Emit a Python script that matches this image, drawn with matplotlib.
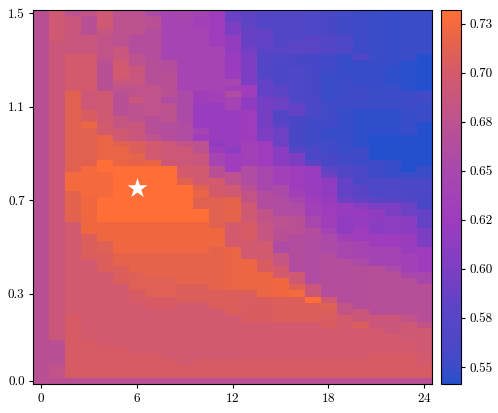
import numpy as np
import matplotlib
matplotlib.use('Agg')
import matplotlib.pyplot as plt
from matplotlib.colors import LinearSegmentedColormap

plt.rcParams['font.family'] = 'cmr10'
plt.rcParams['axes.formatter.use_mathtext'] = True

# score in thousandths for each column, as (value, row where it stops), rows counted from the top
col_00 = [(672, 60)]
col_01 = [(695, 5), (690, 53), (672, 57), (680, 59), (672, 60)]
col_02 = [(675, 1), (688, 7), (700, 13), (712, 26), (725, 29), (713, 34), (697, 49), (703, 59), (672, 60)]
col_03 = [(680, 1), (672, 4), (688, 7), (700, 13), (692, 16), (705, 18), (720, 19), (712, 25), (725, 30), (722, 36), (708, 40), (697, 52), (700, 53), (703, 59), (672, 60)]
col_04 = [(695, 3), (685, 4), (680, 8), (672, 13), (695, 18), (700, 20), (718, 24), (732, 26), (725, 30), (732, 34), (722, 37), (710, 39), (708, 42), (697, 53), (700, 54), (703, 59), (672, 60)]
col_05 = [(675, 6), (688, 8), (697, 11), (688, 12), (678, 13), (672, 17), (685, 19), (695, 21), (712, 22), (718, 25), (732, 34), (722, 39), (715, 41), (708, 44), (697, 54), (703, 59), (672, 60)]
col_06 = [(675, 4), (665, 7), (675, 9), (688, 12), (678, 14), (688, 15), (675, 18), (688, 21), (708, 23), (715, 25), (732, 34), (722, 39), (715, 42), (710, 45), (703, 47), (697, 55), (703, 59), (672, 60)]
col_07 = [(655, 1), (672, 3), (662, 4), (665, 8), (668, 12), (678, 17), (668, 20), (678, 21), (698, 24), (718, 25), (732, 34), (722, 39), (715, 43), (710, 46), (703, 48), (697, 55), (703, 59), (672, 60)]
col_08 = [(645, 8), (665, 10), (672, 14), (660, 15), (675, 18), (665, 21), (692, 25), (732, 34), (722, 39), (715, 43), (710, 46), (703, 48), (697, 56), (703, 59), (672, 60)]
col_09 = [(650, 2), (645, 13), (655, 18), (660, 21), (680, 22), (692, 25), (700, 27), (712, 28), (732, 34), (722, 39), (715, 44), (708, 47), (697, 57), (703, 59), (672, 60)]
col_10 = [(640, 1), (635, 3), (645, 13), (630, 15), (622, 19), (640, 20), (628, 21), (675, 23), (688, 25), (697, 28), (712, 29), (718, 30), (712, 32), (732, 34), (722, 39), (715, 44), (708, 47), (697, 56), (703, 59), (672, 60)]
col_11 = [(625, 5), (630, 6), (645, 13), (635, 15), (622, 21), (615, 22), (625, 23), (645, 25), (672, 27), (700, 30), (712, 35), (722, 38), (715, 45), (708, 48), (697, 56), (703, 59), (672, 60)]
col_12 = [(588, 2), (600, 4), (617, 7), (622, 11), (650, 12), (635, 13), (660, 14), (640, 16), (622, 22), (612, 23), (628, 26), (675, 28), (695, 30), (715, 34), (700, 38), (718, 45), (708, 49), (697, 56), (703, 59), (672, 60)]
col_13 = [(582, 3), (587, 6), (595, 7), (600, 12), (628, 14), (615, 16), (625, 21), (635, 25), (660, 28), (672, 29), (682, 31), (695, 34), (703, 37), (697, 40), (720, 45), (708, 46), (705, 50), (698, 56), (703, 59), (672, 60)]
col_14 = [(572, 3), (585, 6), (580, 7), (570, 11), (585, 14), (595, 19), (600, 21), (625, 25), (650, 29), (662, 32), (680, 34), (685, 37), (697, 40), (705, 42), (720, 46), (705, 50), (698, 56), (703, 59), (672, 60)]
col_15 = [(570, 6), (580, 7), (565, 9), (562, 12), (580, 14), (590, 16), (570, 18), (580, 19), (590, 22), (610, 25), (635, 28), (655, 30), (660, 33), (675, 35), (672, 37), (658, 39), (685, 41), (700, 43), (722, 46), (708, 50), (698, 56), (703, 59), (672, 60)]
col_16 = [(570, 5), (580, 7), (560, 9), (565, 15), (585, 17), (560, 22), (575, 23), (600, 25), (625, 29), (635, 30), (650, 31), (658, 33), (672, 36), (662, 42), (695, 44), (710, 45), (725, 46), (708, 50), (698, 56), (703, 59), (672, 60)]
col_17 = [(565, 4), (578, 7), (558, 11), (560, 15), (563, 17), (555, 22), (562, 24), (578, 25), (622, 30), (628, 31), (635, 33), (650, 35), (665, 36), (660, 44), (690, 46), (732, 47), (708, 50), (698, 56), (703, 59), (672, 60)]
col_18 = [(560, 4), (570, 7), (555, 10), (550, 15), (555, 19), (548, 21), (555, 23), (560, 25), (580, 26), (590, 27), (615, 30), (620, 31), (625, 33), (630, 35), (640, 36), (655, 39), (665, 46), (695, 47), (710, 48), (708, 49), (705, 51), (698, 56), (703, 59), (672, 60)]
col_19 = [(555, 4), (565, 7), (548, 11), (552, 16), (548, 21), (550, 23), (555, 25), (570, 27), (585, 30), (592, 31), (620, 33), (615, 36), (635, 37), (650, 40), (665, 47), (682, 49), (700, 51), (698, 56), (703, 59), (672, 60)]
col_20 = [(552, 7), (570, 8), (548, 12), (552, 16), (545, 22), (552, 25), (562, 28), (578, 30), (585, 31), (610, 32), (620, 35), (625, 37), (645, 40), (655, 41), (667, 48), (690, 50), (708, 51), (698, 56), (703, 59), (672, 60)]
col_21 = [(550, 8), (548, 12), (550, 16), (545, 20), (542, 24), (552, 27), (565, 30), (580, 31), (600, 32), (615, 34), (610, 36), (625, 38), (640, 41), (668, 49), (690, 51), (698, 55), (703, 59), (672, 60)]
col_22 = [(548, 9), (545, 12), (550, 16), (545, 20), (542, 24), (548, 27), (565, 30), (575, 31), (600, 33), (612, 36), (625, 38), (640, 41), (655, 42), (668, 49), (690, 52), (698, 55), (703, 59), (672, 60)]
col_23 = [(550, 8), (543, 13), (552, 16), (548, 20), (542, 26), (550, 27), (562, 30), (570, 31), (590, 33), (610, 36), (622, 39), (635, 42), (650, 43), (668, 49), (680, 50), (695, 53), (698, 55), (703, 59), (672, 60)]
col_24 = [(550, 7), (542, 13), (555, 15), (550, 18), (542, 25), (550, 27), (562, 30), (560, 32), (585, 35), (600, 38), (625, 42), (650, 44), (668, 50), (682, 51), (695, 55), (698, 57), (703, 59), (672, 60)]

columns = [col_00, col_01, col_02, col_03, col_04, col_05, col_06, col_07, col_08, col_09, col_10, col_11,
           col_12, col_13, col_14, col_15, col_16, col_17, col_18, col_19, col_20, col_21, col_22, col_23, col_24]

xticks = [0, 6, 12, 18, 24]
yticks = [0, 15, 30, 45, 59]
ylabels = ['1.5', '1.1', '0.7', '0.3', '0.0']
cticks = [0.55, 0.575, 0.6, 0.625, 0.65, 0.675, 0.7, 0.725]
clabels = ['0.55', '0.58', '0.60', '0.62', '0.65', '0.68', '0.70', '0.73']
best = (6, 28)

vmin, vmax = 0.5413, 0.7321
stops = [0.5413, 0.547, 0.56, 0.58, 0.60, 0.625, 0.65, 0.675, 0.70, 0.715, 0.7321]
stop_colors = ['#2450cd', '#384dca', '#4a48c8', '#5c44c6', '#7d3ec3', '#9e3cbe', '#a848ae', '#bc5290', '#d45a6c', '#e4634b', '#ff6e36']

grid = np.zeros((60, 25))
for j, col in enumerate(columns):
    start = 0
    for value, stop in col:
        grid[start:stop, j] = value / 1000
        start = stop

positions = [(s - vmin) / (vmax - vmin) for s in stops]
cmap = LinearSegmentedColormap.from_list('score', list(zip(positions, stop_colors)))

W, H = 498, 413
fig = plt.figure(figsize=(W / 100, H / 100), dpi=100)
ax = fig.add_axes([33 / W, 1 - 384 / H, 399 / W, 374 / H])
cax = fig.add_axes([441 / W, 1 - 384 / H, 20 / W, 374 / H])

im = ax.imshow(grid, cmap=cmap, vmin=vmin, vmax=vmax, aspect='auto', interpolation='nearest')
ax.scatter(*best, marker='*', color='white', s=230, linewidths=0, zorder=3)
ax.set_xticks(xticks)
ax.set_yticks(yticks)
ax.set_yticklabels(ylabels)
ax.tick_params(length=3, width=0.8, labelsize=9.5, pad=3)

cb = fig.colorbar(im, cax=cax)
cb.set_ticks(cticks)
cb.set_ticklabels(clabels)
cb.ax.tick_params(length=3, width=0.8, labelsize=9.5, pad=3)

fig.savefig('out.png', dpi=100)
